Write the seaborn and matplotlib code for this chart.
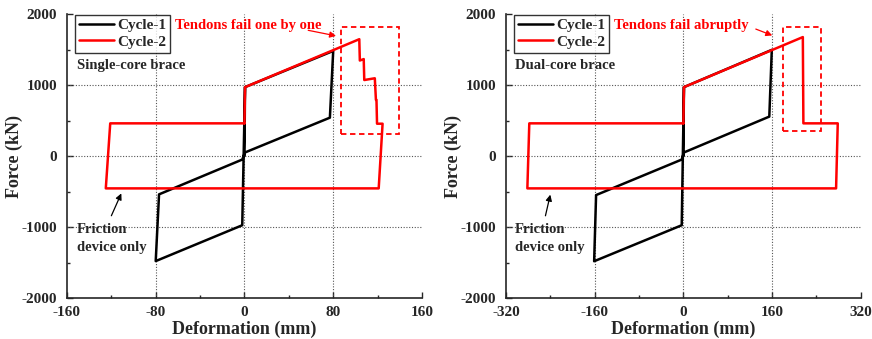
import matplotlib
matplotlib.use("Agg")
import matplotlib.pyplot as plt
import seaborn as sns
import pandas as pd
from matplotlib.patches import Rectangle

# ---- data ----
# Single-core brace
sc_c1_x = [0, 0.5, 80, 77, 0.5, -2, -77, -80, -2, 0.5]
sc_c1_y = [0, 970, 1480, 540, 50, -50, -540, -1480, -975, 970]
sc_c2_x = [0, 0.5, 103.5, 104, 107.5, 108, 117.5, 118.5, 119, 119.5, 124.5, 121, -125, -121, 0]
sc_c2_y = [460, 970, 1645, 1345, 1365, 1070, 1095, 790, 790, 455, 455, -456, -456, 460, 460]
# Dual-core brace
dc_c1_x = [0, 1, 159.5, 155, 1, -3, -157.5, -161, -3, 1]
dc_c1_y = [0, 970, 1495, 555, 50, -50, -550, -1482, -975, 970]
dc_c2_x = [0, 1, 215.5, 216.5, 278.5, 275.5, -281.5, -278, 0]
dc_c2_y = [460, 970, 1675, 460, 460, -456, -456, 460, 460]

series_labels = ["Cycle-1", "Cycle-2"]
panel_titles = ["Single-core brace", "Dual-core brace"]
fail_texts = ["Tendons fail one by one", "Tendons fail abruptly"]
friction_text = "Friction\ndevice only"
x_ticks = [[-160, -80, 0, 80, 160], [-320, -160, 0, 160, 320]]
y_ticks = [-2000, -1000, 0, 1000, 2000]

# annotation geometry (data coords)
boxes = [(87, 310, 52, 1505), (180, 355, 68, 1460)]
fail_text_xy = [(-63, 1840), (-126, 1840)]
fail_arrows = [((55, 1778), (85, 1684)), ((126, 1802), (165, 1684))]
fric_arrows = [((-121, -877), (-110, -491)), ((-250, -880), (-239, -506))]
fric_text_x = [-151, -304]
title_x = [-151, -304]

sns.set_style("ticks")
plt.rcParams["font.family"] = ["Liberation Serif", "DejaVu Serif"]
plt.rcParams["font.weight"] = "bold"
plt.rcParams["axes.labelweight"] = "bold"
plt.rcParams["axes.unicode_minus"] = False
plt.rcParams["xtick.direction"] = "in"
plt.rcParams["ytick.direction"] = "in"

fig = plt.figure(figsize=(8.72, 3.39), dpi=100)
ax1 = fig.add_axes([0.0768, 0.1209, 0.4071, 0.8378])
ax2 = fig.add_axes([0.5803, 0.1209, 0.4068, 0.8378])

panels = [
    (ax1, sc_c1_x, sc_c1_y, sc_c2_x, sc_c2_y),
    (ax2, dc_c1_x, dc_c1_y, dc_c2_x, dc_c2_y),
]

for i, (ax, x1, y1, x2, y2) in enumerate(panels):
    df1 = pd.DataFrame({"x": x1, "y": y1})
    df2 = pd.DataFrame({"x": x2, "y": y2})
    sns.lineplot(data=df1, x="x", y="y", sort=False, estimator=None, color="black",
                 lw=1.8, ax=ax, label=series_labels[0], zorder=3)
    sns.lineplot(data=df2, x="x", y="y", sort=False, estimator=None, color="#ff0000",
                 lw=1.8, ax=ax, label=series_labels[1], zorder=4)
    xt = x_ticks[i]
    ax.set_xlim(xt[0], xt[-1])
    ax.set_ylim(-2000, 2000)
    ax.set_xticks(xt)
    ax.set_yticks(y_ticks)
    step = (xt[1] - xt[0]) / 2
    ax.set_xticks([xt[0] + step * (2 * k + 1) for k in range(4)], minor=True)
    ax.set_yticks([-1500, -500, 500, 1500], minor=True)
    ax.tick_params(axis="both", which="major", length=4, width=1, labelsize=11)
    ax.tick_params(axis="x", which="major", pad=6)
    ax.tick_params(axis="y", which="major", pad=7)
    ax.tick_params(axis="both", which="minor", length=2.5, width=1)
    for lab in ax.get_xticklabels() + ax.get_yticklabels():
        lab.set_fontweight("bold")
    # grid lines (dotted) at inner majors
    for gx in xt[1:-1]:
        ax.axvline(gx, color="#555555", lw=0.8, ls=(0, (1, 1.5)), zorder=1)
    for gy in y_ticks[1:-1]:
        ax.axhline(gy, color="#555555", lw=0.8, ls=(0, (1, 1.5)), zorder=1)
    for s in ["top", "right"]:
        ax.spines[s].set_visible(False)
    for s in ["left", "bottom"]:
        ax.spines[s].set_linewidth(1.2)
    ax.set_xlabel("Deformation (mm)", fontsize=13, fontweight="bold", labelpad=1)
    ax.set_ylabel("Force (kN)", fontsize=13, fontweight="bold", labelpad=-1)

    leg = ax.legend(loc="upper left", bbox_to_anchor=(0.022, 0.998), borderaxespad=0,
                    fontsize=11, frameon=True, fancybox=False, handlelength=2.3,
                    handletextpad=0.2, borderpad=0.25, labelspacing=0.2)
    leg.get_frame().set_edgecolor("black")
    leg.get_frame().set_linewidth(1.0)
    for t in leg.get_texts():
        t.set_fontweight("bold")
    for h in leg.get_lines():
        h.set_linewidth(1.8)

    ax.text(title_x[i], 1280, panel_titles[i], fontsize=10.5, fontweight="bold",
            va="center", ha="left")
    ax.text(fric_text_x[i], -950, friction_text, fontsize=10.5, fontweight="bold",
            va="top", ha="left", linespacing=1.45)
    ax.annotate("", xy=fric_arrows[i][1], xytext=fric_arrows[i][0],
                arrowprops=dict(arrowstyle="-|>", color="black", lw=0.9,
                                mutation_scale=9))
    ax.text(fail_text_xy[i][0], fail_text_xy[i][1], fail_texts[i], color="#ff0000",
            fontsize=10.5, fontweight="bold", va="center", ha="left")
    ax.annotate("", xy=fail_arrows[i][1], xytext=fail_arrows[i][0],
                arrowprops=dict(arrowstyle="-|>", color="#ff0000", lw=0.9,
                                mutation_scale=9))
    bx, by, bw, bh = boxes[i]
    ax.add_patch(Rectangle((bx, by), bw, bh, fill=False, edgecolor="#ff0000",
                           lw=1.3, ls=(0, (3, 2)), zorder=5))

fig.savefig("out.png", dpi=100)
